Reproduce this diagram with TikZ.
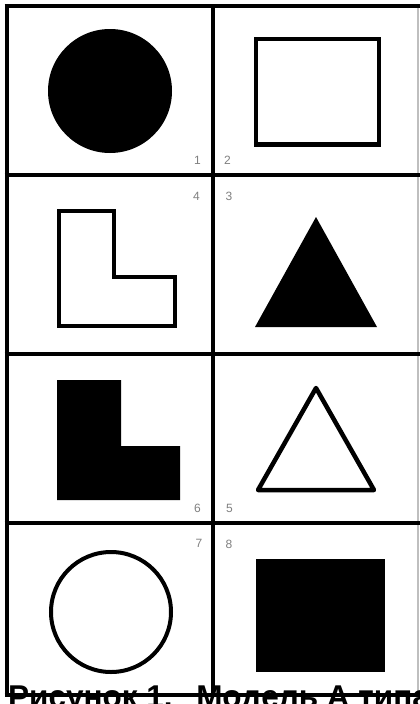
\documentclass[tikz,border=0pt]{standalone}
\usepackage{fontspec}
\setmainfont{Liberation Sans}
\begin{document}
\begin{tikzpicture}[x=1pt,y=-1pt,
  grid/.style={line width=4pt,black},
  outl/.style={line width=4.5pt,black},
  solid/.style={fill=black},
  num/.style={text=black!50,font=\fontsize{12}{12}\selectfont,inner sep=0pt},
  caption/.style={font=\bfseries\fontsize{31.5}{31.5}\selectfont,inner sep=0pt,anchor=base west}]
\useasboundingbox (0,0) rectangle (420,704);
\fill[white] (0,0) rectangle (420,704);
\path[clip] (0,0) rectangle (420,704);
% grid
\draw[grid] (6.5,5.5) -- (6.5,695);
\draw[grid] (213,5.5) -- (213,695);
\draw[line width=2pt,black!25] (417.5,5.5) -- (417.5,695);
\foreach \yy in {5.5,175,354,522.5,695}
  \draw[grid] (4.5,\yy) -- (425,\yy);
% cell 1: filled circle
\fill[solid] (110,91) circle (62);
% cell 2: rectangle outline
\draw[outl] (256,39) rectangle (379,144.5);
% cell 4: L outline
\draw[outl] (59,211) -- (114,211) -- (114,277) -- (175,277) -- (175,326) -- (59,326) -- cycle;
% cell 3: filled triangle
\fill[solid] (316,217) -- (377,327) -- (255,327) -- cycle;
% cell 6: filled L
\fill[solid] (57,380) -- (121,380) -- (121,446) -- (180,446) -- (180,500) -- (57,500) -- cycle;
% cell 5: triangle outline
\draw[outl,line join=round] (316,388) -- (374,490) -- (258,490) -- cycle;
% cell 7: circle outline
\draw[line width=4pt] (111,612) circle (60);
% cell 8: filled square
\fill[solid] (256,559) rectangle (385,672);
% numbers
\node[num] (n1) at (197.5,160) {1};
\node[num] (n2) at (227.5,160) {2};
\node[num] (n4) at (196.5,196) {4};
\node[num] (n3) at (229,196) {3};
\node[num] (n6) at (197.5,508) {6};
\node[num] (n5) at (229.5,508) {5};
\node[num] (n7) at (199,543) {7};
\node[num] (n8) at (229,544) {8};
% caption
\node[caption] (cap) at (8,707) {Рисунок 1.\hspace{0.75em}Модель А типа};
\end{tikzpicture}
\end{document}
